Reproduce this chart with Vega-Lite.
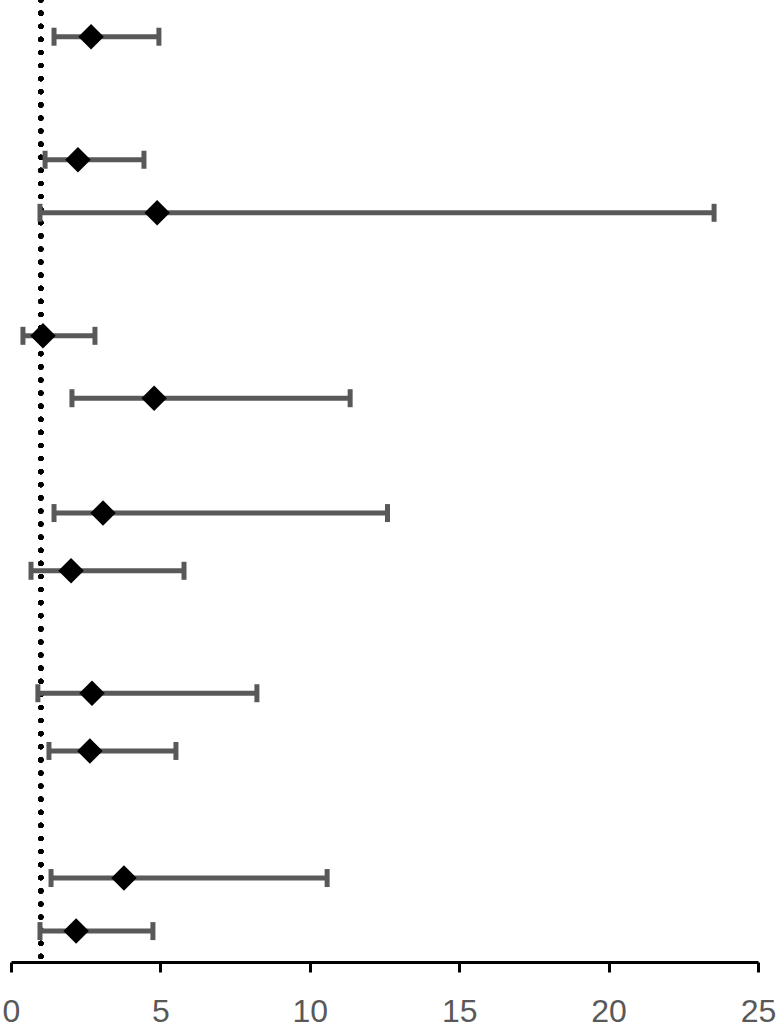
{
  "$schema": "https://vega.github.io/schema/vega-lite/v6.json",
  "width": 747,
  "height": 962,
  "autosize": {"type": "none"},
  "padding": {"left": 11, "top": 0, "right": 19, "bottom": 72},
  "background": "white",
  "config": {"view": {"stroke": null}},
  "data": {
    "values": [
      {"row": 0.63, "est": 2.68, "low": 1.44, "high": 4.95},
      {"row": 2.74, "est": 2.24, "low": 1.14, "high": 4.45},
      {"row": 3.65, "est": 4.89, "low": 0.97, "high": 23.53},
      {"row": 5.76, "est": 1.07, "low": 0.40, "high": 2.81},
      {"row": 6.83, "est": 4.79, "low": 2.04, "high": 11.35},
      {"row": 8.80, "est": 3.08, "low": 1.44, "high": 12.60},
      {"row": 9.79, "est": 2.01, "low": 0.67, "high": 5.79},
      {"row": 11.89, "est": 2.71, "low": 0.90, "high": 8.23},
      {"row": 12.88, "est": 2.64, "low": 1.27, "high": 5.52},
      {"row": 15.06, "est": 3.78, "low": 1.34, "high": 10.58},
      {"row": 15.97, "est": 2.18, "low": 0.97, "high": 4.75}
    ]
  },
  "encoding": {
    "y": {"field": "row", "type": "quantitative", "scale": {"domain": [0, 16.5], "reverse": true, "nice": false, "zero": false}, "axis": null}
  },
  "layer": [
    {
      "mark": {"type": "rule", "color": "black", "strokeWidth": 5, "strokeDash": [0.1, 13], "strokeCap": "round"},
      "encoding": {"x": {"datum": 1, "type": "quantitative"}, "y": null}
    },
    {
      "mark": {"type": "rule", "color": "#595959", "strokeWidth": 5},
      "encoding": {
        "x": {"field": "low", "type": "quantitative", "scale": {"domain": [0, 25], "nice": false}, "axis": {"values": [0, 5, 10, 15, 20, 25], "grid": false, "title": null, "domainColor": "black", "domainWidth": 3, "tickColor": "black", "tickWidth": 3, "tickSize": 10, "labelFont": "Liberation Sans", "labelFontSize": 32, "labelColor": "#595959", "labelPadding": 24, "labelFlush": false}},
        "x2": {"field": "high"}
      }
    },
    {
      "mark": {"type": "tick", "orient": "vertical", "color": "#595959", "size": 18, "thickness": 5, "opacity": 1},
      "encoding": {"x": {"field": "low", "type": "quantitative"}}
    },
    {
      "mark": {"type": "tick", "orient": "vertical", "color": "#595959", "size": 18, "thickness": 5, "opacity": 1},
      "encoding": {"x": {"field": "high", "type": "quantitative"}}
    },
    {
      "mark": {"type": "point", "shape": "diamond", "filled": true, "color": "black", "size": 650, "opacity": 1},
      "encoding": {"x": {"field": "est", "type": "quantitative"}}
    }
  ]
}
